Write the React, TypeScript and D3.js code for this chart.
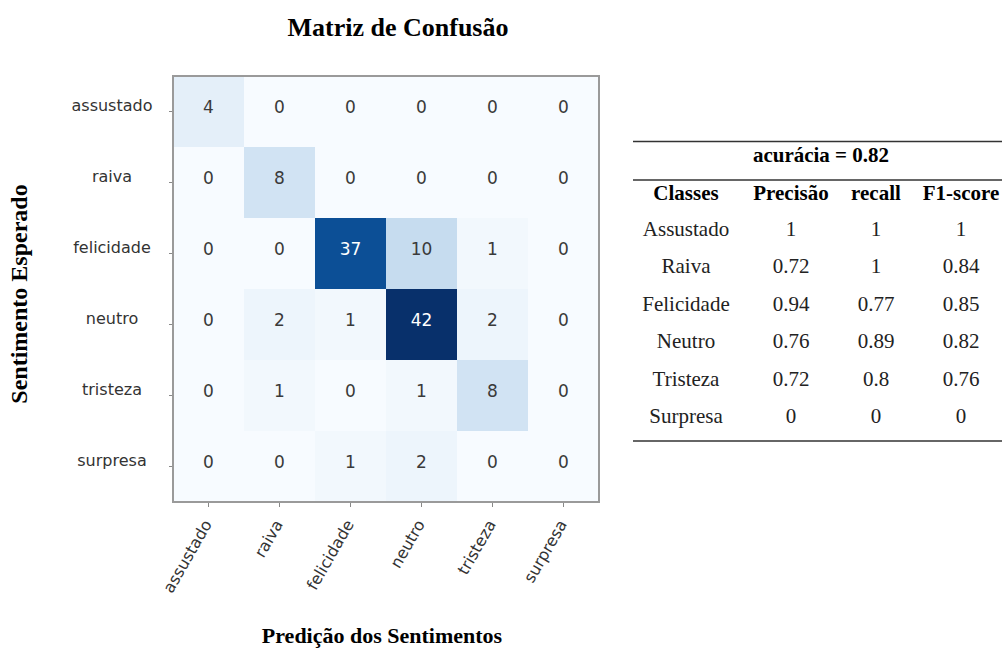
import React, { useEffect, useRef } from "react";
import * as d3 from "d3";

// labels of the matrix (predicted on x, expected on y)
const sentimentos = ["assustado", "raiva", "felicidade", "neutro", "tristeza", "surpresa"];

// confusion matrix, row = expected, column = predicted
const matriz = [
  [4, 0, 0, 0, 0, 0],
  [0, 8, 0, 0, 0, 0],
  [0, 0, 37, 10, 1, 0],
  [0, 2, 1, 42, 2, 0],
  [0, 1, 0, 1, 8, 0],
  [0, 0, 1, 2, 0, 0],
];

// metrics table
const acuracia = 0.82;
const colunas = ["Classes", "Precisão", "recall", "F1-score"];
const classes = ["Assustado", "Raiva", "Felicidade", "Neutro", "Tristeza", "Surpresa"];
const precisao = ["1", "0.72", "0.94", "0.76", "0.72", "0"];
const recall = ["1", "1", "0.77", "0.89", "0.8", "0"];
const f1score = ["1", "0.84", "0.85", "0.82", "0.76", "0"];

const W = 1002;
const H = 652;
const serif = "'Liberation Serif', 'Times New Roman', serif";
const sans = "'DejaVu Sans', sans-serif";

export default function App() {
  const ref = useRef<SVGSVGElement>(null);

  useEffect(() => {
    const svg = d3.select(ref.current);
    svg.selectAll("*").remove();

    const left = 173;
    const top = 76;
    const size = 426;

    const x = d3.scaleBand().domain(sentimentos).range([left, left + size]);
    const y = d3.scaleBand().domain(sentimentos).range([top, top + size]);
    const maxVal = d3.max(matriz.flat()) as number;
    const color = d3.scaleSequential(d3.interpolateBlues).domain([0, maxVal]);

    const cells = matriz.flatMap((row, i) =>
      row.map((v, j) => ({ real: sentimentos[i], pred: sentimentos[j], v }))
    );

    const g = svg.append("g");
    g.selectAll("rect.cell")
      .data(cells)
      .enter()
      .append("rect")
      .attr("class", "cell")
      .attr("x", (d) => x(d.pred)!)
      .attr("y", (d) => y(d.real)!)
      .attr("width", x.bandwidth())
      .attr("height", y.bandwidth())
      .attr("fill", (d) => color(d.v));

    g.selectAll("text.val")
      .data(cells)
      .enter()
      .append("text")
      .attr("class", "val")
      .attr("x", (d) => x(d.pred)! + x.bandwidth() / 2)
      .attr("y", (d) => y(d.real)! + y.bandwidth() / 2 - 5)
      .attr("dy", "0.36em")
      .attr("text-anchor", "middle")
      .style("font-family", sans)
      .style("font-size", "17px")
      .attr("fill", (d) => (d.v > maxVal / 2 ? "#ffffff" : "#3a3a3a"))
      .text((d) => d.v);

    // frame
    g.append("rect")
      .attr("x", left)
      .attr("y", top)
      .attr("width", size)
      .attr("height", size)
      .attr("fill", "none")
      .attr("stroke", "#9a9a9a")
      .attr("stroke-width", 2);

    // y axis ticks + labels (centered column of labels)
    const yAxis = g
      .append("g")
      .attr("transform", `translate(${left - 1},0)`)
      .call(d3.axisLeft(y).tickSize(3).tickFormat(() => ""));
    yAxis.select(".domain").remove();
    yAxis.selectAll(".tick line").attr("stroke", "#888");

    g.selectAll("text.ylab")
      .data(sentimentos)
      .enter()
      .append("text")
      .attr("class", "ylab")
      .attr("x", 112)
      .attr("y", (d) => y(d)! + y.bandwidth() / 2 - 6)
      .attr("dy", "0.35em")
      .attr("text-anchor", "middle")
      .style("font-family", sans)
      .style("font-size", "16px")
      .attr("fill", "#333")
      .text((d) => d);

    // x axis ticks + rotated labels
    const xAxis = g
      .append("g")
      .attr("transform", `translate(0,${top + size + 1})`)
      .call(d3.axisBottom(x).tickSize(4).tickFormat(() => ""));
    xAxis.select(".domain").remove();
    xAxis.selectAll(".tick line").attr("stroke", "#888");

    g.selectAll("text.xlab")
      .data(sentimentos)
      .enter()
      .append("text")
      .attr("class", "xlab")
      .attr(
        "transform",
        (d) => `translate(${x(d)! + x.bandwidth() / 2 + 4},${top + size + 22}) rotate(-60)`
      )
      .attr("text-anchor", "end")
      .style("font-family", sans)
      .style("font-size", "16px")
      .attr("fill", "#333")
      .text((d) => d);

    // titles
    svg
      .append("text")
      .attr("x", 398)
      .attr("y", 36)
      .attr("text-anchor", "middle")
      .style("font-family", serif)
      .style("font-weight", "bold")
      .style("font-size", "26px")
      .text("Matriz de Confusão");

    svg
      .append("text")
      .attr("x", 382)
      .attr("y", 643)
      .attr("text-anchor", "middle")
      .style("font-family", serif)
      .style("font-weight", "bold")
      .style("font-size", "22px")
      .text("Predição dos Sentimentos");

    svg
      .append("text")
      .attr("transform", "translate(27,294) rotate(-90)")
      .attr("text-anchor", "middle")
      .style("font-family", serif)
      .style("font-weight", "bold")
      .style("font-size", "24px")
      .text("Sentimento Esperado");

    // metrics table
    const t = svg.append("g");
    const tl = 633;
    const tr = 1002;
    const colX = d3.scaleOrdinal<string, number>().domain(colunas).range([686, 791, 876, 961]);
    const rowY = d3.scalePoint().domain(classes).range([236, 423]);

    const rule = (yy: number, w: number) =>
      t.append("line")
        .attr("x1", tl)
        .attr("x2", tr)
        .attr("y1", yy)
        .attr("y2", yy)
        .attr("stroke", "#333")
        .attr("stroke-width", w);
    rule(141.5, 1.6);
    rule(180, 1.6);
    rule(441, 1.6);

    t.append("text")
      .attr("x", 821)
      .attr("y", 162)
      .attr("text-anchor", "middle")
      .style("font-family", serif)
      .style("font-weight", "bold")
      .style("font-size", "21px")
      .text(`acurácia = ${acuracia}`);

    t.selectAll("text.head")
      .data(colunas)
      .enter()
      .append("text")
      .attr("class", "head")
      .attr("x", (d) => colX(d))
      .attr("y", 200)
      .attr("text-anchor", "middle")
      .style("font-family", serif)
      .style("font-weight", "bold")
      .style("font-size", "21px")
      .text((d) => d);

    const linhas = classes.map((c, i) => [c, precisao[i], recall[i], f1score[i]]);
    linhas.forEach((linha, i) => {
      t.selectAll(`text.r${i}`)
        .data(linha)
        .enter()
        .append("text")
        .attr("class", `r${i}`)
        .attr("x", (_, k) => colX(colunas[k]))
        .attr("y", rowY(classes[i])!)
        .attr("text-anchor", "middle")
        .style("font-family", serif)
        .style("font-size", "21px")
        .attr("fill", "#222")
        .text((d) => d);
    });
  }, []);

  return (
    <div style={{ position: "absolute", left: 0, top: 0, background: "#fff" }}>
      <svg ref={ref} width={W} height={H} style={{ display: "block" }} />
    </div>
  );
}
